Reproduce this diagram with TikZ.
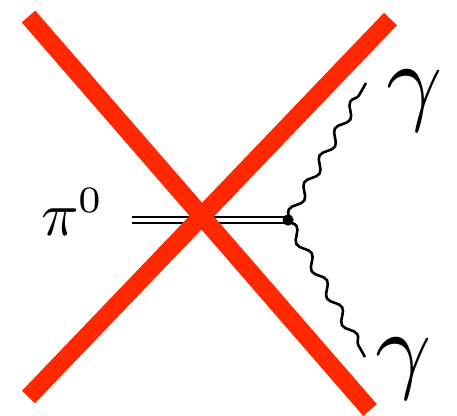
\documentclass[tikz,border=0pt]{standalone}
\usetikzlibrary{decorations.pathmorphing}
\definecolor{xred}{RGB}{255,40,0}
\begin{document}
\begin{tikzpicture}[x=1pt,y=-1pt,
  photon/.style={decorate,decoration={snake,amplitude=4.5pt,segment length=31pt},line width=2.6pt},
  meson/.style={double,double distance=3.5pt,line width=2.5pt},
  redbar/.style={xred,line width=18pt},
  vtx/.style={circle,fill=black,inner sep=0pt,minimum size=11pt},
  lbl/.style={anchor=base west,inner sep=0pt}]
\useasboundingbox (0,0) rectangle (457,415);
\coordinate (pin) at (132,220);
\node[vtx] (v) at (288,220) {};
\coordinate (g1) at (366,83);
\coordinate (g2) at (365,357);
\draw[meson] (pin) -- (v.center);
\draw[photon] (v.center) -- (g1);
\draw[photon] (v.center) -- (g2);
\node[vtx] at (v) {};
\node[lbl] (pi) at (41,235) {\scalebox{6.2}{$\pi^{\mbox{\fontsize{6}{6}\selectfont 0}}$}};
\node[lbl] (ga) at (386,112) {\scalebox{9.8}{$\gamma$}};
\node[lbl] (gb) at (375,380) {\scalebox{9.8}{$\gamma$}};
\coordinate (a1) at (28.5,16.5);
\coordinate (a2) at (370,410);
\coordinate (b1) at (390.5,19);
\coordinate (b2) at (28.5,397);
\draw[redbar] (a1) -- (a2);
\draw[redbar] (b1) -- (b2);
\end{tikzpicture}
\end{document}
